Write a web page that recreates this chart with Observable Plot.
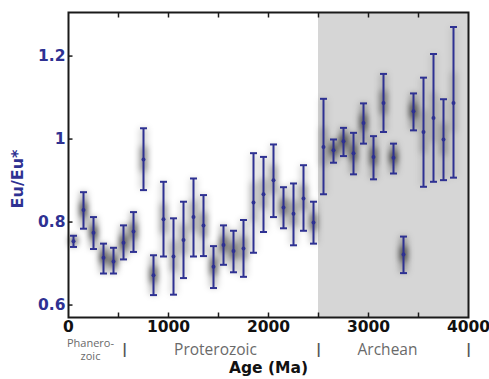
<!DOCTYPE html>
<html><head><meta charset="utf-8">
<script src="https://cdn.jsdelivr.net/npm/d3@7"></script>
<script src="https://cdn.jsdelivr.net/npm/@observablehq/plot@0.6"></script>
<style>body{margin:0;background:#fff}</style>
</head><body><div id="chart"></div>
<script>
const ages = [50,150,250,350,450,550,650,750,850,950,1050,1150,1250,1350,1450,1550,1650,1750,1850,1950,2050,2150,2250,2350,2450,2550,2650,2750,2850,2950,3050,3150,3250,3350,3450,3550,3650,3750,3850];
const euMean = [0.754,0.829,0.774,0.714,0.705,0.750,0.777,0.951,0.672,0.807,0.717,0.757,0.812,0.792,0.692,0.745,0.730,0.736,0.847,0.867,0.901,0.835,0.820,0.857,0.799,0.981,0.973,0.995,0.966,1.039,0.957,1.087,0.955,0.722,1.067,1.017,1.051,0.999,1.087];
const euLow = [0.740,0.784,0.735,0.676,0.676,0.710,0.728,0.877,0.624,0.717,0.625,0.665,0.717,0.718,0.641,0.697,0.679,0.668,0.726,0.776,0.812,0.785,0.744,0.779,0.748,0.867,0.943,0.959,0.915,0.989,0.903,1.017,0.917,0.677,1.021,0.885,0.897,0.901,0.907];
const euHigh = [0.767,0.872,0.812,0.748,0.738,0.792,0.824,1.026,0.720,0.897,0.809,0.849,0.905,0.865,0.742,0.792,0.779,0.805,0.966,0.957,0.987,0.884,0.893,0.937,0.849,1.097,0.999,1.027,1.015,1.086,1.007,1.157,0.989,0.765,1.110,1.148,1.205,1.096,1.270];
const xTickLabels = [0,1000,2000,3000,4000];
const xTickMarks = [500,1000,1500,2000,2500,3000,3500];
const yTickLabels = [0.6,0.8,1,1.2];
const archeanSpan = [[2500, 4000]];
const periodNames = ["Proterozoic", "Archean"];
const periodCenters = [1470, 3190];
const phaneroLine1 = ["Phanero-"];
const phaneroLine2 = ["zoic"];
const phaneroCenter = [220];
const periodBounds = [560, 2500, 4000];

const data = ages.map((age, i) => ({age, mean: euMean[i], lo: euLow[i], hi: euHigh[i]}));
const blue = "#2e3192";
const hbar = {draw(ctx, size) { const w = Math.sqrt(size / Math.PI); ctx.moveTo(-w, 0); ctx.lineTo(w, 0); }};
const vbar = {draw(ctx, size) { const w = Math.sqrt(size / Math.PI); ctx.moveTo(0, -w); ctx.lineTo(0, w); }};
const op = d => Math.max(0.13, Math.min(0.6, 0.05 / (d.hi - d.lo)));

const plot = Plot.plot({
  width: 489, height: 379,
  marginLeft: 68, marginRight: 21, marginTop: 12, marginBottom: 62,
  style: {fontFamily: "DejaVu Sans", background: "#fff"},
  x: {domain: [0, 4000]},
  y: {domain: [0.57, 1.305]},
  marks: [
    Plot.rect(archeanSpan, {x1: d => d[0], x2: d => d[1], fill: "#d6d6d6"}),
    Plot.ruleX(data, {x: "age", y1: "lo", y2: "hi", stroke: "#000", strokeWidth: 8, strokeOpacity: d => op(d) * 0.5}),
    Plot.ruleX(data, {x: "age", y1: d => d.mean - (d.hi - d.lo) / 5, y2: d => d.mean + (d.hi - d.lo) / 5, stroke: "#000", strokeWidth: 7, strokeOpacity: op}),
    Plot.link(data, {x1: "age", x2: "age", y1: "lo", y2: "hi", stroke: blue, strokeWidth: 2}),
    Plot.dot(data, {x: "age", y: "lo", symbol: hbar, r: 3.5, stroke: blue, fill: "none", strokeWidth: 2}),
    Plot.dot(data, {x: "age", y: "hi", symbol: hbar, r: 3.5, stroke: blue, fill: "none", strokeWidth: 2}),
    Plot.dot(data, {x: "age", y: "mean", r: 2, fill: blue}),
    Plot.frame({stroke: "#1a1a1a", strokeWidth: 2}),
    Plot.dot(xTickMarks, {x: d => d, frameAnchor: "bottom", symbol: vbar, r: 2.5, dy: -2.5, stroke: "#1a1a1a", strokeWidth: 1.5}),
    Plot.dot(xTickMarks, {x: d => d, frameAnchor: "top", symbol: vbar, r: 2.5, dy: 2.5, stroke: "#1a1a1a", strokeWidth: 1.5}),
    Plot.dot(yTickLabels, {y: d => d, frameAnchor: "left", symbol: hbar, r: 2, dx: 2, stroke: "#1a1a1a", strokeWidth: 1.5}),
    Plot.axisX({ticks: xTickLabels, tickFormat: d => String(d), tickSize: 0, tickPadding: 3, label: null, fontSize: 15.5, fontWeight: "bold", color: "#111"}),
    Plot.axisY({ticks: yTickLabels, tickFormat: d => String(d), tickSize: 0, tickPadding: 3, label: null, fontSize: 15.5, fontWeight: "bold", color: blue}),
    Plot.text(["Eu/Eu*"], {text: d => d, frameAnchor: "left", textAnchor: "middle", dx: -51, dy: 14, rotate: -90, fontSize: 16, fontWeight: "bold", fill: blue}),
    Plot.text(["Age (Ma)"], {text: d => d, frameAnchor: "bottom", dy: 55, fontSize: 15.5, fontWeight: "bold", fill: "#111"}),
    Plot.text(periodNames, {text: d => d, x: (d, i) => periodCenters[i], frameAnchor: "bottom", dy: 37, fontFamily: "Open Sans", fontSize: 15.5, fill: "#6a6a6a"}),
    Plot.text(phaneroLine1, {text: d => d, x: (d, i) => phaneroCenter[i], frameAnchor: "bottom", dy: 29, fontFamily: "Open Sans", fontSize: 11, fill: "#6a6a6a"}),
    Plot.text(phaneroLine2, {text: d => d, x: (d, i) => phaneroCenter[i], frameAnchor: "bottom", dy: 42, fontFamily: "Open Sans", fontSize: 11, fill: "#6a6a6a"}),
    Plot.text(periodBounds, {text: d => "|", x: d => d, frameAnchor: "bottom", dy: 36, fontFamily: "Open Sans", fontSize: 15, fontWeight: "bold", fill: "#555"})
  ]
});

const ns = "http://www.w3.org/2000/svg";
const defs = document.createElementNS(ns, "defs");
defs.innerHTML = '<filter id="blurShadow" x="-50%" y="-50%" width="200%" height="200%"><feGaussianBlur stdDeviation="3.2"/></filter>';
plot.insertBefore(defs, plot.firstChild);
plot.querySelectorAll('g[aria-label="rule"]').forEach(g => g.setAttribute("filter", "url(#blurShadow)"));
document.getElementById("chart").appendChild(plot);
</script>
</body></html>
